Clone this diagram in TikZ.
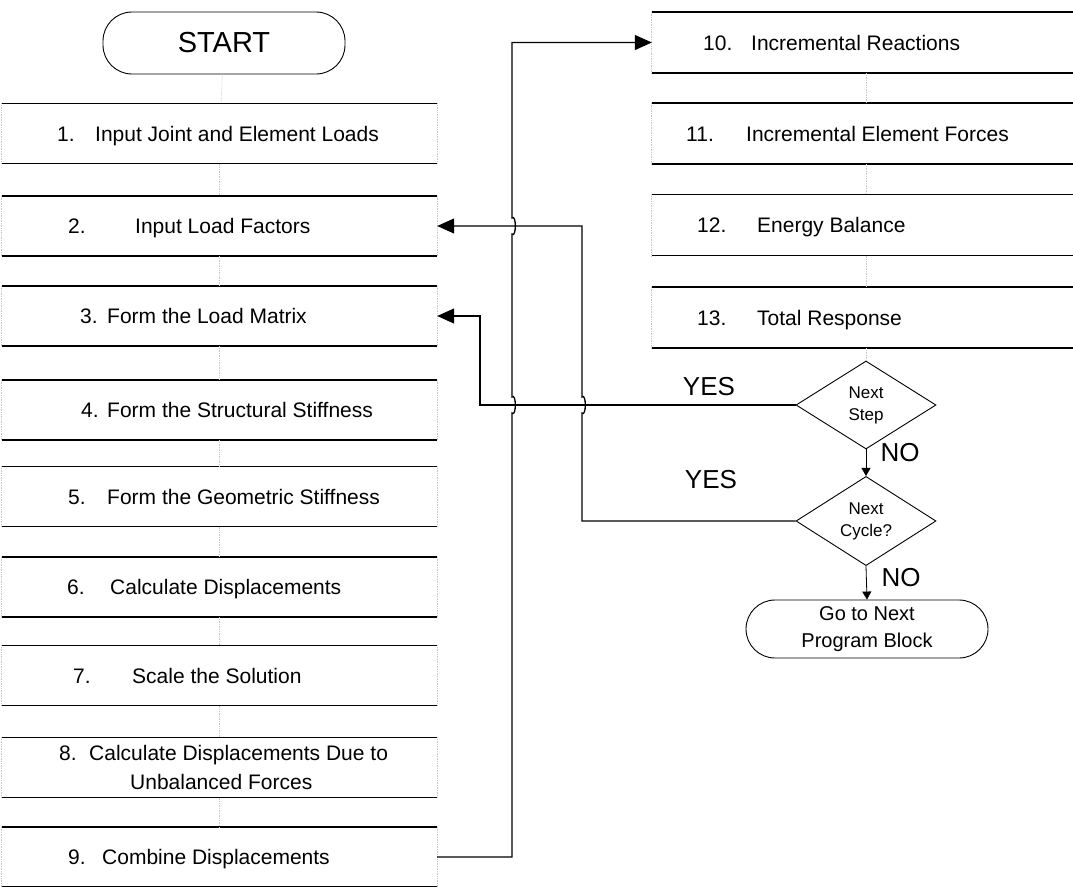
\documentclass[tikz,border=0pt]{standalone}
\usepackage{fontspec}
\setmainfont{Liberation Sans}
\usetikzlibrary{arrows.meta,positioning,shapes.geometric,calc}

\begin{document}
\begin{tikzpicture}[x=1pt, y=-1pt,
    stepbox/.style={minimum width=435pt, minimum height=60pt, inner sep=0pt},
    rightbox/.style={minimum width=428pt, minimum height=61pt, inner sep=0pt},
    steptext/.style={anchor=west, inner sep=0pt, text height=15pt, text depth=0pt, font=\fontsize{21}{25}\selectfont},
    terminal/.style={draw, line width=0.9pt, rounded corners=29pt, minimum width=242pt, inner sep=0pt, align=center},
    decision/.style={draw, diamond, line width=0.9pt, minimum width=140pt, minimum height=88pt, inner sep=0pt, align=center, font=\fontsize{17}{22}\selectfont},
    edge/.style={line width=1.5pt},
    side/.style={gray!45, densely dotted, line width=0.7pt},
    flow/.style={gray!45, densely dotted, line width=0.7pt},
    arrow/.style={-{Triangle[length=17pt, width=15pt]}, line width=1.3pt},
    smallarrow/.style={-{Triangle[length=8pt, width=9pt]}, line width=0.8pt},
    hop/.style={out=-45, in=45},
    answer/.style={inner sep=0pt, font=\fontsize{26}{30}\selectfont}
]
\useasboundingbox (0,0) rectangle (1073,886);

% Terminals
\node[terminal, minimum height=62pt, font=\fontsize{29}{34}\selectfont] (start) at (224,43) {START};
\node[terminal, minimum height=58pt, font=\fontsize{20}{27}\selectfont] (go) at (867,629) {Go to Next\\Program Block};

% Left column of steps
\node[stepbox] (b1) at (219.5,133.5) {};
\node[stepbox] (b2) at (219.5,226) {};
\node[stepbox] (b3) at (219.5,316) {};
\node[stepbox] (b4) at (219.5,410) {};
\node[stepbox] (b5) at (219.5,496.5) {};
\node[stepbox] (b6) at (219.5,587) {};
\node[stepbox] (b7) at (219.5,675.5) {};
\node[stepbox] (b8) at (219.5,767.5) {};
\node[stepbox] (b9) at (219.5,857) {};

% Right column of steps
\node[rightbox] (b10) at (866,42.5) {};
\node[rightbox] (b11) at (866,133.5) {};
\node[rightbox] (b12) at (866,225) {};
\node[rightbox] (b13) at (866,317.5) {};

% Decisions
\node[decision] (ns) at (866,405) {Next\\Step};
\node[decision] (nc) at (866,521) {Next\\Cycle?};

% Box edges: solid top and bottom, faint sides
\foreach \i in {1,...,13} {
    \draw[edge] (b\i.north west) -- (b\i.north east) (b\i.south west) -- (b\i.south east);
    \draw[side] (b\i.north west) -- (b\i.south west) (b\i.north east) -- (b\i.south east);
}

% Step texts
\node[steptext] (n1) at (57,133.5) {1.};
\node[steptext] (t1) at (95,133.5) {Input Joint and Element Loads};
\node[steptext] (n2) at (68,226) {2.};
\node[steptext] (t2) at (135,226) {Input Load Factors};
\node[steptext] (n3) at (80,316) {3.};
\node[steptext] (t3) at (107,316) {Form the Load Matrix};
\node[steptext] (n4) at (81,410) {4.};
\node[steptext] (t4) at (107,410) {Form the Structural Stiffness};
\node[steptext] (n5) at (68,496.5) {5.};
\node[steptext] (t5) at (107,496.5) {Form the Geometric Stiffness};
\node[steptext] (n6) at (67,587) {6.};
\node[steptext] (t6) at (110,587) {Calculate Displacements};
\node[steptext] (n7) at (73,675.5) {7.};
\node[steptext] (t7) at (132,675.5) {Scale the Solution};
\node[steptext] (n8) at (59,753) {8.};
\node[steptext] (t8) at (89,753) {Calculate Displacements Due to};
\node[steptext] (t8b) at (130,782) {Unbalanced Forces};
\node[steptext] (n9) at (68,857) {9.};
\node[steptext] (t9) at (102,857) {Combine Displacements};

\node[steptext] (n10) at (703,42.5) {10.};
\node[steptext] (t10) at (751,42.5) {Incremental Reactions};
\node[steptext] (n11) at (686,133.5) {11.};
\node[steptext] (t11) at (746,133.5) {Incremental Element Forces};
\node[steptext] (n12) at (697,225) {12.};
\node[steptext] (t12) at (757,225) {Energy Balance};
\node[steptext] (n13) at (697,317.5) {13.};
\node[steptext] (t13) at (757,317.5) {Total Response};

% Answers
\node[answer] (yes1) at (709,387) {YES};
\node[answer] (yes2) at (711,480) {YES};
\node[answer] (no1) at (900,453) {NO};
\node[answer] (no2) at (901,578) {NO};

% Faint flow between consecutive steps
\foreach \a/\b in {start/b1, b1/b2, b2/b3, b3/b4, b4/b5, b5/b6, b6/b7, b7/b8, b8/b9, b10/b11, b11/b12, b12/b13, b13/ns}
    \draw[flow] (\a) -- (\b);

% Routing columns
\coordinate (up) at (512,0);
\coordinate (back) at (582,0);
\coordinate (loop) at (480,0);

% Decision exits
\draw[smallarrow] (ns.south) -- (nc.north);
\draw[smallarrow] (nc.south) -- (go.north);

% Step 9 to step 10
\draw[arrow] (b9.east) -- (up |- b9.east) -- ($(up |- ns.west)+(0,8)$) to[hop] ($(up |- ns.west)+(0,-8)$)
    -- ($(up |- b2.east)+(0,8)$) to[hop] ($(up |- b2.east)+(0,-8)$) -- (up |- b10.west) -- (b10.west);

% Next step loop back to step 3
\draw[arrow] (ns.west) -- (loop |- ns.west) -- (loop |- b3.east) -- (b3.east);

% Next cycle loop back to step 2
\draw[arrow] (nc.west) -- (back |- nc.west) -- ($(back |- ns.west)+(0,8)$) to[hop] ($(back |- ns.west)+(0,-8)$)
    -- (back |- b2.east) -- (b2.east);

\end{tikzpicture}
\end{document}
